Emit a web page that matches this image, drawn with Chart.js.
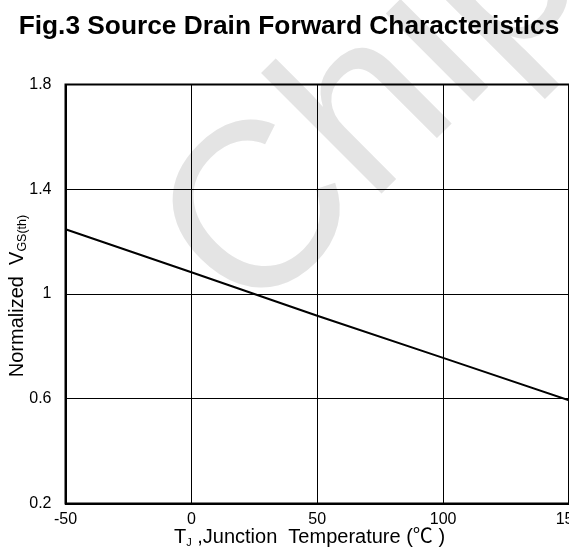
<!DOCTYPE html>
<html>
<head>
<meta charset="utf-8">
<script src="https://cdn.jsdelivr.net/npm/chart.js@4"></script>
<style>
  html, body { margin: 0; padding: 0; background: #fff; }
  canvas { display: block; }
</style>
</head>
<body>
<canvas id="chart" width="569" height="554"></canvas>
<script>
var titleText = "Fig.3 Source Drain Forward Characteristics";
var watermark = "Chip";
var tempC = [-50, 0, 50, 100, 150];
var vgsNorm = [1.247, 1.083, 0.917, 0.756, 0.594];
var xTicks = [-50, 0, 50, 100, 150];
var yTicks = [0.2, 0.6, 1, 1.4, 1.8];

var fontFamily = "'Liberation Sans', Arial, 'Noto Sans CJK SC', sans-serif";

function pieces(ctx, parts, x, y) {
  // draw text runs one after the other, subscripts lowered
  for (var i = 0; i < parts.length; i++) {
    var p = parts[i];
    ctx.font = p.size + "px " + fontFamily;
    ctx.fillText(p.text, x, y + (p.dy || 0));
    x += ctx.measureText(p.text).width;
  }
}

function runWidth(ctx, parts) {
  var w = 0;
  for (var i = 0; i < parts.length; i++) {
    ctx.font = parts[i].size + "px " + fontFamily;
    w += ctx.measureText(parts[i].text).width;
  }
  return w;
}

var decor = {
  id: "decor",
  beforeDraw: function (chart) {
    var ctx = chart.ctx;
    ctx.save();
    ctx.fillStyle = "#fff";
    ctx.fillRect(0, 0, chart.width, chart.height);
    ctx.translate(250, 325);
    ctx.rotate(-Math.PI / 4);
    ctx.fillStyle = "#e4e4e4";
    ctx.font = "235px " + fontFamily;
    ctx.textBaseline = "alphabetic";
    ctx.fillText(watermark, 0, 0);
    ctx.restore();
  },
  beforeDatasetsDraw: function (chart) {
    var a = chart.chartArea;
    var ctx = chart.ctx;
    ctx.save();
    ctx.strokeStyle = "#000";
    ctx.lineWidth = 2;
    ctx.strokeRect(a.left, a.top, a.right - a.left, a.bottom - a.top);
    ctx.restore();
  },
  afterDraw: function (chart) {
    var ctx = chart.ctx;
    var a = chart.chartArea;
    ctx.save();
    ctx.fillStyle = "#000";
    ctx.textAlign = "center";
    ctx.textBaseline = "alphabetic";
    ctx.font = "bold 26.3px " + fontFamily;
    ctx.fillText(titleText, 289, 33.5);

    ctx.textAlign = "left";
    var xt = [
      { text: "T", size: 20 },
      { text: "J", size: 11, dy: 3 },
      { text: " ,Junction  Temperature (\u2103 )", size: 20 }
    ];
    pieces(ctx, xt, 309.5 - runWidth(ctx, xt) / 2, 542.5);

    var yt = [
      { text: "Normalized  V", size: 20 },
      { text: "GS(th)", size: 12.5, dy: 3 }
    ];
    var w = runWidth(ctx, yt);
    ctx.translate(22.5, (a.top + a.bottom) / 2 + 2);
    ctx.rotate(-Math.PI / 2);
    pieces(ctx, yt, -w / 2, 0);
    ctx.restore();
  }
};

new Chart(document.getElementById("chart"), {
  type: "scatter",
  data: {
    datasets: [{
      data: tempC.map(function (t, i) { return { x: t, y: vgsNorm[i] }; }),
      showLine: true,
      borderColor: "#000",
      borderWidth: 2,
      pointRadius: 0,
      tension: 0,
      fill: false
    }]
  },
  options: {
    responsive: false,
    animation: false,
    layout: { autoPadding: false, padding: { top: 84.5, left: 0, right: 0, bottom: 0 } },
    plugins: {
      legend: { display: false },
      tooltip: { enabled: false },
      title: { display: false }
    },
    scales: {
      x: {
        type: "linear",
        min: -50,
        max: 150,
        afterBuildTicks: function (s) { s.ticks = xTicks.map(function (v) { return { value: v }; }); },
        afterFit: function (s) { s.height = 50.5; s.paddingLeft = 0; s.paddingRight = 0; },
        grid: { color: "#000", lineWidth: 1, drawTicks: false },
        border: { display: true, color: "#000", width: 2 },
        ticks: { color: "#000", padding: 6, maxRotation: 0, font: { family: fontFamily, size: 16 } }
      },
      y: {
        type: "linear",
        min: 0.2,
        max: 1.8,
        afterBuildTicks: function (s) { s.ticks = yTicks.map(function (v) { return { value: v }; }); },
        afterFit: function (s) { s.width = 65.5; s.paddingTop = 0; s.paddingBottom = 0; },
        grid: { color: "#000", lineWidth: 1, drawTicks: false },
        border: { display: true, color: "#000", width: 2 },
        ticks: {
          color: "#000",
          padding: 14,
          font: { family: fontFamily, size: 16 },
          callback: function (v) { return String(+v.toFixed(2)); }
        }
      }
    }
  },
  plugins: [decor]
});
</script>
</body>
</html>
